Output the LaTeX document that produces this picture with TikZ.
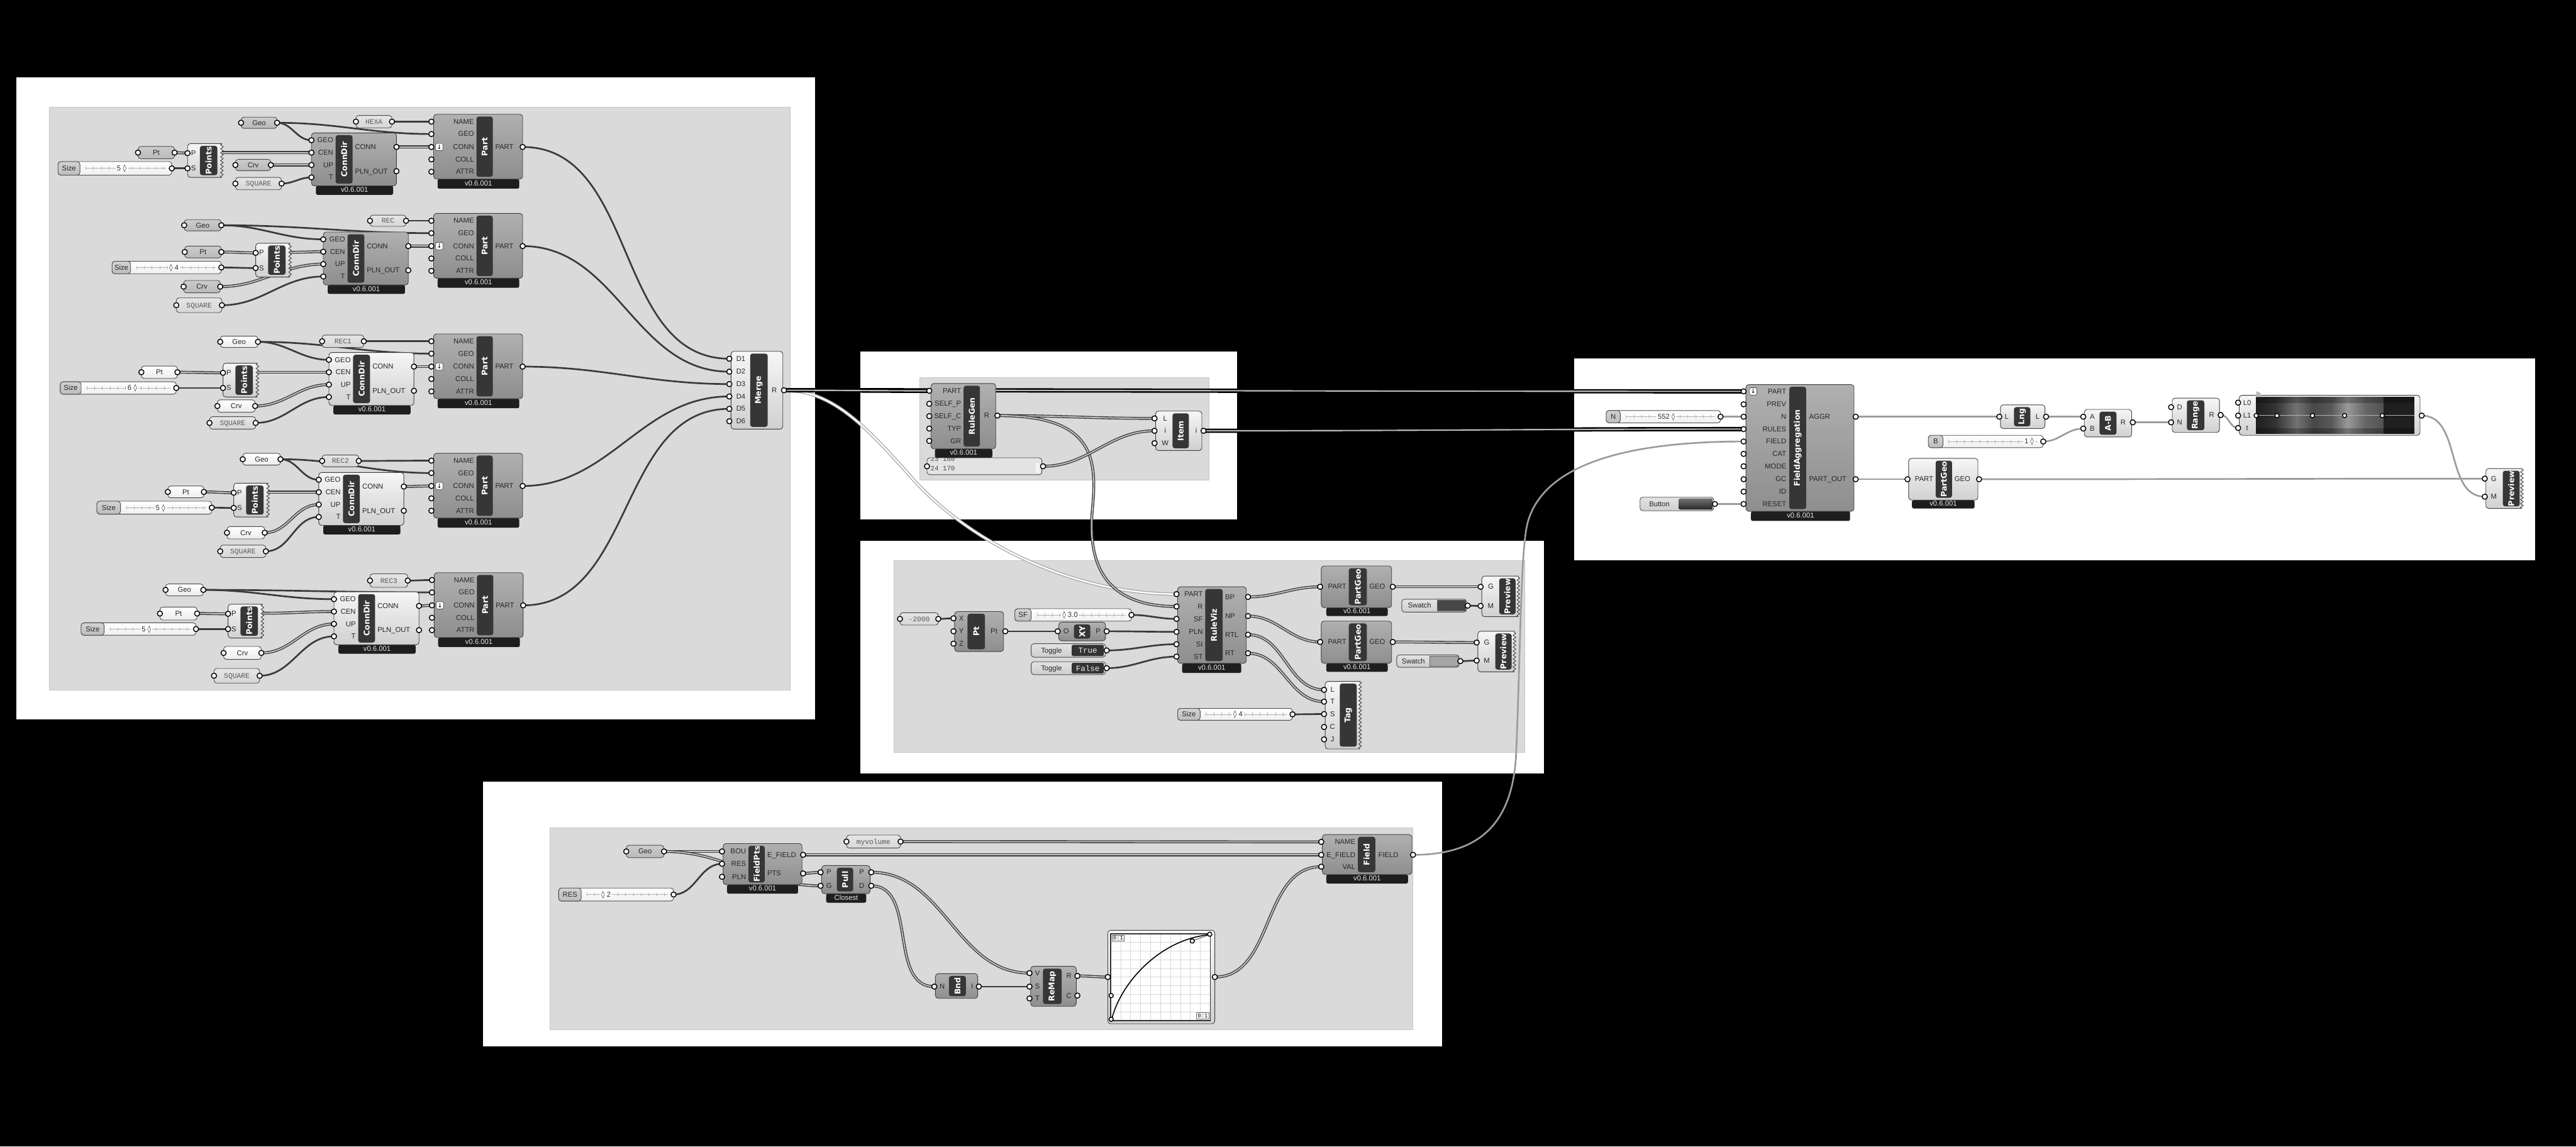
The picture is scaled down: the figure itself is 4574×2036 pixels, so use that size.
\documentclass[tikz,border=0pt]{standalone}
\usepackage{fontspec}
\setmainfont{Liberation Sans}
\newfontfamily\tfont{DejaVu Sans}
\newfontfamily\mfont{Liberation Mono}
\newfontfamily\symf{DejaVu Sans}
\usetikzlibrary{fit,decorations.pathmorphing}
\pgfdeclarelayer{panels}
\pgfdeclarelayer{wires}
\pgfsetlayers{panels,wires,main}

\definecolor{wirec}{HTML}{3A3A3A}
\definecolor{wgray}{HTML}{9C9C9C}
\definecolor{grpc}{HTML}{DADADA}
\definecolor{barc}{HTML}{363636}
\definecolor{vbarc}{HTML}{1E1E1E}
\definecolor{dtop}{HTML}{B0B0B0}
\definecolor{dbot}{HTML}{8E8E8E}
\definecolor{ltop}{HTML}{F6F6F6}
\definecolor{lbot}{HTML}{D0D0D0}

\tikzset{
  x=0.5pt, y=-0.5pt,
  cbody/.style={inner sep=0pt, draw=black!75, line width=0.5pt, rounded corners=2.5pt},
  cdark/.style={top color=dtop, bottom color=dbot},
  clight/.style={top color=ltop, bottom color=lbot},
  cbar/.style={inner sep=0pt, fill=barc, rounded corners=2pt},
  ctitle/.style={font=\tfont\bfseries\fontsize{7}{7}\selectfont, text=white, inner sep=0pt},
  vbox/.style={inner sep=0pt, fill=vbarc, rounded corners=1.5pt},
  vtext/.style={font=\fontsize{6.3}{7}\selectfont, text=gray!20, inner sep=0pt},
  plabel/.style={font=\fontsize{6.3}{7}\selectfont, text=black!85, inner sep=0pt, text height=4.6pt, text depth=0.3pt},
  port/.style={circle, draw=black, fill=white, line width=0.8pt, minimum size=4.6pt, inner sep=0pt},
  pin/.style={inner sep=0pt, minimum size=0pt},
  pbody/.style={inner sep=0pt, draw=black!70, line width=0.5pt, rounded corners=2.5pt},
  pdark/.style={top color=gray!40, bottom color=gray!55},
  plight/.style={top color=white, bottom color=gray!15},
  ppanel/.style={top color=gray!20, bottom color=gray!32},
  mtext/.style={font=\mfont\fontsize{6}{7}\selectfont, text=black!70, inner sep=0pt},
  wsingle/.style={draw=wirec, line width=1.5pt},
  wlist/.style={draw=wirec, line width=0.75pt, double=gray!45, double distance=1pt},
  wthick/.style={draw=black, line width=1.3pt, double=gray!55, double distance=1.2pt},
  wsel/.style={draw=gray!65, line width=0.8pt, double=white, double distance=1.3pt},
  wg/.style={draw=wgray, line width=1.5pt},
}

\newcommand{\dm}{{\symf ◊}}
\newcommand{\Comp}[9]{%
  \node[cbody,#8,fit={(#2,#3)(#4,#5)}] (#1) {};%
  \node[cbar,fit={(#6,#3+4)(#7,#5-4)}] (#1-bar) {};%
  \node[ctitle,rotate=90] (#1-t) at (#1-bar.center) {#9};}
\newcommand{\VB}[6]{%
  \node[vbox,fit={(#2,#3)(#4,#5)}] (#1) {};%
  \node[vtext] (#1-t) at ([yshift=0.6pt]#1.center) {#6};}
\newcommand{\Prt}[6]{%
  \node[port] (#1) at (#2,#3) {};%
  \node[plabel,anchor=#5] (#1-l) at (#4,#3) {#6};}
\newcommand{\GParam}[7]{%
  \node[pbody,#6,fit={(#2,#3)(#4,#5)}] (#1) {};%
  \node[plabel] (#1-t) at (#1.center) {#7};%
  \node[port] (#1-i) at (#2,{(#3+#5)/2}) {};%
  \node[port] (#1-o) at (#4,{(#3+#5)/2}) {};}
\newcommand{\Slider}[9]{%
  \node[pbody,top color=white,bottom color=gray!12,fit={(#2,#3)(#4,#5)}] (#1) {};%
  \node[pbody,top color=gray!35,bottom color=gray!52,fit={(#2,#3)(#2+#6,#5)}] (#1-lb) {};%
  \node[plabel] (#1-l) at (#1-lb.center) {#7};%
  \draw[gray!60,line width=0.4pt] (#2+#6+10,{(#3+#5)/2}) -- (#4-10,{(#3+#5)/2});%
  \draw[gray!60,line width=3pt,dash pattern=on 0.35pt off 6.5pt] (#2+#6+10,{(#3+#5)/2}) -- (#4-10,{(#3+#5)/2});%
  \node[plabel,fill=white,inner xsep=1pt] (#1-v) at (#8,{(#3+#5)/2}) {#9};%
  \node[port] (#1-o) at (#4,{(#3+#5)/2}) {};}
\newcommand{\JagO}[4]{%
  \draw[black!75,line width=0.5pt,rounded corners=2.5pt] (#3,#2) -- (#1,#2) -- (#1,#4) -- (#3,#4);%
  \draw[black!75,line width=0.5pt,decorate,decoration={zigzag,segment length=3.5pt,amplitude=1.2pt}] (#3,#4) -- (#3,#2);}
\newcommand{\Icon}[3]{%
  \node[draw=black!70,fill=white,rounded corners=1pt,minimum size=6.5pt,inner sep=0pt,font=\symf\fontsize{5.5}{5.5}\selectfont] (#1) at (#2,#3) {↓};}
\newcommand{\Toggle}[6]{%
  \node[pbody,top color=gray!22,bottom color=gray!38,fit={(#2,#3)(#4,#5)}] (#1) {};%
  \node[plabel] (#1-l) at ({(#2+#4-60)/2},{(#3+#5)/2}) {Toggle};%
  \node[inner sep=0pt,fill=black!80,rounded corners=1pt,fit={(#4-60,#3+2)(#4-3,#5-2)}] (#1-b) {};%
  \node[mtext,text=gray!15,font=\mfont\fontsize{7}{7}\selectfont] (#1-v) at (#1-b.center) {#6};%
  \node[port] (#1-o) at (#4+2,{(#3+#5)/2}) {};}
\newcommand{\Swatch}[6]{%
  \node[pbody,top color=gray!22,bottom color=gray!38,fit={(#2,#3)(#4,#5)}] (#1) {};%
  \node[plabel] (#1-l) at ({(#2+#4-52)/2},{(#3+#5)/2}) {Swatch};%
  \node[inner sep=0pt,fill=#6,draw=black!60,line width=0.3pt,fit={(#4-52,#3+2)(#4-2,#5-2)}] (#1-b) {};%
  \node[port] (#1-o) at (#4+2,{(#3+#5)/2}) {};}
\newcommand{\Button}[5]{%
  \node[pbody,top color=gray!22,bottom color=gray!38,fit={(#2,#3)(#4,#5)}] (#1) {};%
  \node[plabel] (#1-l) at ({(#2+#4-62)/2},{(#3+#5)/2}) {Button};%
  \node[inner sep=0pt,top color=black!55,bottom color=black!85,rounded corners=1pt,fit={(#4-62,#3+2)(#4-2,#5-2)}] (#1-b) {};%
  \node[port] (#1-o) at (#4+2,{(#3+#5)/2}) {};}
\newcommand{\PartC}[4]{%
  \VB{#1v}{#2+7}{#3+115}{#2+152}{#3+132}{v0.6.001}%
  \Comp{#1}{#2}{#3}{#2+158}{#3+115}{#2+76}{#2+105}{#4}{Part}%
  \Prt{#1-NAME}{#2-4}{#3+13}{#2+72}{east}{NAME}%
  \Prt{#1-GEO}{#2-4}{#3+35}{#2+72}{east}{GEO}%
  \Prt{#1-CONN}{#2-4}{#3+58}{#2+72}{east}{CONN}%
  \Prt{#1-COLL}{#2-4}{#3+80}{#2+72}{east}{COLL}%
  \Prt{#1-ATTR}{#2-4}{#3+102}{#2+72}{east}{ATTR}%
  \Prt{#1-PART}{#2+158}{#3+58}{#2+109}{west}{PART}%
  \Icon{#1-ic}{#2+10}{#3+58}}
\newcommand{\CDC}[4]{%
  \VB{#1v}{#2+8}{#3+94}{#2+145}{#3+110}{v0.6.001}%
  \Comp{#1}{#2}{#3}{#2+151}{#3+94}{#2+43}{#2+73}{#4}{ConnDir}%
  \Prt{#1-GEO}{#2}{#3+13}{#2+39}{east}{GEO}%
  \Prt{#1-CEN}{#2}{#3+35}{#2+39}{east}{CEN}%
  \Prt{#1-UP}{#2}{#3+57}{#2+39}{east}{UP}%
  \Prt{#1-T}{#2}{#3+79}{#2+39}{east}{T}%
  \Prt{#1-CONN}{#2+151}{#3+25}{#2+77}{west}{CONN}%
  \Prt{#1-PLN}{#2+151}{#3+68}{#2+77}{west}{PLN\_OUT}}
\newcommand{\PtsC}[3]{%
  \Comp{#1}{#2}{#3}{#2+61}{#3+60}{#2+22}{#2+53}{clight,draw=none}{Points}%
  \JagO{#2}{#3}{#2+61}{#3+60}%
  \Prt{#1-P}{#2}{#3+17}{#2+15}{east}{P}%
  \Prt{#1-S}{#2}{#3+44}{#2+15}{east}{S}%
  \node[pin] (#1-o) at (#2+61,#3+16) {};}
\newcommand{\CW}[1]{%
  \draw[wsingle] (c#1geo-o.center) to[out=0,in=180] (c#1cd-GEO.center);%
  \draw[wsingle] (c#1geo-o.center) to[out=0,in=180] (c#1p-GEO.center);%
  \draw[wsingle] (c#1nm-o.center) to[out=0,in=180] (c#1p-NAME.center);%
  \draw[wlist] (c#1pt-o.center) to[out=0,in=180] (c#1pts-P.center);%
  \draw[wsingle] (c#1sz-o.center) to[out=0,in=180] (c#1pts-S.center);%
  \draw[wlist] (c#1pts-o.center) to[out=0,in=180] (c#1cd-CEN.center);%
  \draw[wlist] (c#1crv-o.center) to[out=0,in=180] (c#1cd-UP.center);%
  \draw[wsingle] (c#1sq-o.center) to[out=0,in=180] (c#1cd-T.center);%
  \draw[wlist] (c#1cd-CONN.center) to[out=0,in=180] (c#1p-CONN.center);}

\begin{document}
\begin{tikzpicture}
\useasboundingbox (0,0) rectangle (4574,2036);
\begin{pgfonlayer}{panels}
\node[fill=black,inner sep=0,fit={(0,0)(4574,2036)}] (bg) {};
\node[fill=white,inner sep=0,fit={(29,137)(1447,1278)}] (pA) {};
\node[fill=grpc,draw=gray!45,line width=0.5pt,inner sep=0,fit={(88,190)(1403,1225)}] (gA) {};
\node[fill=white,inner sep=0,fit={(1528,624)(2197,922)}] (pB) {};
\node[fill=grpc,draw=gray!45,line width=0.5pt,inner sep=0,fit={(1633,670)(2147,853)}] (gB) {};
\node[fill=white,inner sep=0,fit={(1528,960)(2742,1374)}] (pC) {};
\node[fill=grpc,draw=gray!45,line width=0.5pt,inner sep=0,fit={(1587,995)(2707,1336)}] (gC) {};
\node[fill=white,inner sep=0,fit={(2795,636)(4501,995)}] (pD) {};
\node[fill=white,inner sep=0,fit={(858,1388)(2561,1858)}] (pE) {};
\node[fill=grpc,draw=gray!45,line width=0.5pt,inner sep=0,fit={(977,1470)(2509,1829)}] (gE) {};
\end{pgfonlayer}

% ---------- cluster 1
\PartC{c1p}{770}{203}{cdark}
\CDC{c1cd}{553}{236}{cdark}
\PtsC{c1pts}{333}{255}
\GParam{c1geo}{428}{208}{492}{228}{pdark}{Geo}
\GParam{c1nm}{632}{205}{696}{227}{ppanel}{\mfont\color{black!65}HEXA}
\GParam{c1pt}{245}{260}{310}{282}{pdark}{Pt}
\Slider{c1sz}{103}{287}{305}{311}{39}{Size}{216}{5 \dm}
\GParam{c1crv}{418}{283}{481}{303}{pdark}{Crv}
\GParam{c1sq}{418}{315}{500}{337}{ppanel}{\mfont\color{black!65}SQUARE}
% ---------- cluster 2
\PartC{c2p}{770}{379}{cdark}
\CDC{c2cd}{574}{412}{cdark}
\PtsC{c2pts}{454}{432}
\GParam{c2geo}{327}{390}{393}{410}{pdark}{Geo}
\GParam{c2nm}{657}{382}{721}{402}{ppanel}{\mfont\color{black!65}REC}
\GParam{c2pt}{328}{437}{393}{458}{pdark}{Pt}
\Slider{c2sz}{199}{464}{393}{486}{33}{Size}{309}{\dm\ 4}
\GParam{c2crv}{326}{498}{391}{520}{pdark}{Crv}
\GParam{c2sq}{313}{529}{394}{555}{ppanel}{\mfont\color{black!65}SQUARE}
% ---------- cluster 3
\PartC{c3p}{770}{593}{cdark}
\CDC{c3cd}{584}{626}{clight}
\PtsC{c3pts}{396}{645}
\GParam{c3geo}{391}{597}{458}{617}{plight}{Geo}
\GParam{c3nm}{572}{595}{646}{617}{ppanel}{\mfont\color{black!65}REC1}
\GParam{c3pt}{251}{650}{315}{672}{plight}{Pt}
\Slider{c3sz}{107}{678}{313}{700}{37}{Size}{235}{6 \dm}
\GParam{c3crv}{386}{710}{453}{732}{plight}{Crv}
\GParam{c3sq}{372}{740}{454}{762}{ppanel}{\mfont\color{black!65}SQUARE}
% ---------- cluster 4
\PartC{c4p}{770}{805}{cdark}
\CDC{c4cd}{566}{839}{clight}
\PtsC{c4pts}{415}{858}
\GParam{c4geo}{431}{805}{498}{826}{plight}{Geo}
\GParam{c4nm}{572}{808}{637}{829}{ppanel}{\mfont\color{black!65}REC2}
\GParam{c4pt}{298}{863}{362}{884}{plight}{Pt}
\Slider{c4sz}{172}{890}{376}{913}{42}{Size}{285}{5 \dm}
\GParam{c4crv}{403}{935}{470}{957}{plight}{Crv}
\GParam{c4sq}{391}{968}{472}{990}{ppanel}{\mfont\color{black!65}SQUARE}
% ---------- cluster 5
\PartC{c5p}{771}{1017}{cdark}
\CDC{c5cd}{593}{1051}{clight}
\PtsC{c5pts}{405}{1073}
\GParam{c5geo}{294}{1037}{361}{1058}{plight}{Geo}
\GParam{c5nm}{657}{1019}{724}{1043}{ppanel}{\mfont\color{black!65}REC3}
\GParam{c5pt}{284}{1078}{350}{1101}{plight}{Pt}
\Slider{c5sz}{144}{1106}{348}{1128}{41}{Size}{260}{5 \dm}
\GParam{c5crv}{397}{1148}{464}{1171}{plight}{Crv}
\GParam{c5sq}{380}{1187}{461}{1213}{ppanel}{\mfont\color{black!65}SQUARE}

% ---------- Merge
\Comp{mg}{1298}{624}{1390}{762}{1332}{1363}{clight}{Merge}
\Prt{mg-D1}{1295}{637}{1307}{west}{D1}
\Prt{mg-D2}{1295}{660}{1307}{west}{D2}
\Prt{mg-D3}{1295}{682}{1307}{west}{D3}
\Prt{mg-D4}{1295}{704}{1307}{west}{D4}
\Prt{mg-D5}{1295}{726}{1307}{west}{D5}
\Prt{mg-D6}{1295}{748}{1307}{west}{D6}
\Prt{mg-R}{1392}{693}{1375}{center}{R}

% ---------- RuleGen panel
\VB{rgv}{1660}{797}{1762}{813}{v0.6.001}
\Comp{rg}{1653}{681}{1768}{797}{1711}{1740}{cdark}{RuleGen}
\Prt{rg-PART}{1650}{694}{1707}{east}{PART}
\Prt{rg-SP}{1650}{717}{1707}{east}{SELF\_P}
\Prt{rg-SC}{1650}{739}{1707}{east}{SELF\_C}
\Prt{rg-TYP}{1650}{761}{1707}{east}{TYP}
\Prt{rg-GR}{1650}{783}{1707}{east}{GR}
\Prt{rg-R}{1771}{738}{1752}{center}{R}
\node[pbody,fill=gray!22,fit={(1646,813)(1850,843)}] (rgl) {};
\begin{scope}
\clip (1646,814) rectangle (1850,843);
\node[mtext,anchor=west] (rgl-a) at (1652,815) {23 160};
\end{scope}
\node[mtext,anchor=west] (rgl-b) at (1652,832) {24 170};
\node[fill=gray!8,inner sep=0,rounded corners=1pt,fit={(1839,822)(1846,840)}] (rgl-s) {};
\node[port] (rgl-i) at (1646,828) {};
\node[port] (rgl-o) at (1852,828) {};
\Comp{it}{2052}{730}{2134}{800}{2082}{2111}{clight}{Item}
\Prt{it-L}{2050}{743}{2069}{center}{L}
\Prt{it-i}{2050}{765}{2069}{center}{i}
\Prt{it-W}{2050}{787}{2069}{center}{W}
\Prt{it-o}{2137}{765}{2124}{center}{i}

% ---------- RuleViz panel
\VB{rvv}{2099}{1178}{2204}{1195}{v0.6.001}
\Comp{rv}{2091}{1042}{2213}{1178}{2140}{2171}{cdark}{RuleViz}
\Prt{rv-PART}{2089}{1055}{2136}{east}{PART}
\Prt{rv-R}{2089}{1077}{2136}{east}{R}
\Prt{rv-SF}{2089}{1099}{2136}{east}{SF}
\Prt{rv-PLN}{2089}{1122}{2136}{east}{PLN}
\Prt{rv-SI}{2089}{1144}{2136}{east}{SI}
\Prt{rv-ST}{2089}{1166}{2136}{east}{ST}
\Prt{rv-BP}{2216}{1060}{2175}{west}{BP}
\Prt{rv-NP}{2216}{1094}{2175}{west}{NP}
\Prt{rv-RTL}{2216}{1127}{2175}{west}{RTL}
\Prt{rv-RT}{2216}{1160}{2175}{west}{RT}
\GParam{m2k}{1598}{1088}{1666}{1110}{ppanel}{\mfont\color{black!65}-2000}
\Comp{ptc}{1695}{1086}{1782}{1157}{1718}{1749}{cdark}{Pt}
\Prt{ptc-X}{1693}{1098}{1707}{center}{X}
\Prt{ptc-Y}{1693}{1121}{1707}{center}{Y}
\Prt{ptc-Z}{1693}{1143}{1707}{center}{Z}
\Prt{ptc-o}{1785}{1121}{1765}{center}{Pt}
\Slider{sf}{1802}{1081}{2009}{1103}{29}{SF}{1900}{\dm\ 3.0}
\Comp{xy}{1880}{1105}{1963}{1138}{1907}{1936}{cdark}{XY}
\Prt{xy-O}{1878}{1121}{1893}{center}{O}
\Prt{xy-P}{1965}{1121}{1950}{center}{P}
\Toggle{tg1}{1831}{1143}{1963}{1167}{True}
\Toggle{tg2}{1831}{1175}{1963}{1198}{False}
\VB{pg1v}{2355}{1079}{2464}{1094}{v0.6.001}
\Comp{pg1}{2346}{1005}{2471}{1079}{2395}{2427}{cdark}{PartGeo}
\Prt{pg1-i}{2344}{1042}{2391}{east}{PART}
\Prt{pg1-o}{2473}{1042}{2431}{west}{GEO}
\Swatch{sw1}{2489}{1064}{2604}{1087}{black!72}
\Comp{pv1}{2631}{1023}{2696}{1095}{2662}{2691}{clight,draw=none}{Preview}
\JagO{2631}{1023}{2696}{1095}
\Prt{pv1-G}{2629}{1042}{2647}{center}{G}
\Prt{pv1-M}{2629}{1076}{2647}{center}{M}
\VB{pg2v}{2355}{1178}{2464}{1193}{v0.6.001}
\Comp{pg2}{2346}{1103}{2471}{1178}{2395}{2427}{cdark}{PartGeo}
\Prt{pg2-i}{2344}{1140}{2391}{east}{PART}
\Prt{pg2-o}{2473}{1140}{2431}{west}{GEO}
\Swatch{sw2}{2480}{1163}{2591}{1185}{gray!70}
\Comp{pv2}{2624}{1121}{2689}{1193}{2655}{2684}{clight,draw=none}{Preview}
\JagO{2624}{1121}{2689}{1193}
\Prt{pv2-G}{2622}{1141}{2640}{center}{G}
\Prt{pv2-M}{2622}{1173}{2640}{center}{M}
\Comp{tag}{2353}{1210}{2415}{1330}{2379}{2409}{clight,draw=none}{Tag}
\JagO{2353}{1210}{2415}{1330}
\Prt{tag-L}{2351}{1225}{2366}{center}{L}
\Prt{tag-T}{2351}{1246}{2366}{center}{T}
\Prt{tag-S}{2351}{1268}{2366}{center}{S}
\Prt{tag-C}{2351}{1291}{2366}{center}{C}
\Prt{tag-J}{2351}{1313}{2366}{center}{J}
\Slider{tsz}{2091}{1258}{2295}{1279}{40}{Size}{2198}{\dm\ 4}

% ---------- FieldAggregation panel
\VB{fav}{3109}{908}{3285}{925}{v0.6.001}
\Comp{fa}{3100}{683}{3292}{908}{3177}{3207}{cdark}{FieldAggregation}
\Prt{fa-PART}{3096}{695}{3172}{east}{PART}
\Prt{fa-PREV}{3096}{718}{3172}{east}{PREV}
\Prt{fa-N}{3096}{740}{3172}{east}{N}
\Prt{fa-RULES}{3096}{762}{3172}{east}{RULES}
\Prt{fa-FIELD}{3096}{784}{3172}{east}{FIELD}
\Prt{fa-CAT}{3096}{806}{3172}{east}{CAT}
\Prt{fa-MODE}{3096}{828}{3172}{east}{MODE}
\Prt{fa-GC}{3096}{851}{3172}{east}{GC}
\Prt{fa-ID}{3096}{873}{3172}{east}{ID}
\Prt{fa-RESET}{3096}{895}{3172}{east}{RESET}
\Prt{fa-AGGR}{3295}{740}{3212}{west}{AGGR}
\Prt{fa-PO}{3295}{851}{3212}{west}{PART\_OUT}
\Icon{fa-ic}{3113}{695}
\Slider{nsl}{2852}{729}{3055}{751}{25}{N}{2959}{552 \dm}
\Button{btn}{2912}{883}{3043}{907}
\Comp{lng}{3552}{719}{3631}{761}{3576}{3605}{clight}{Lng}
\Prt{lng-i}{3550}{740}{3563}{center}{L}
\Prt{lng-o}{3633}{740}{3618}{center}{L}
\Slider{bsl}{3424}{773}{3628}{795}{26}{B}{3603}{1 \dm}
\Comp{ab}{3701}{727}{3785}{776}{3728}{3758}{clight}{A-B}
\Prt{ab-A}{3699}{740}{3715}{center}{A}
\Prt{ab-B}{3699}{761}{3715}{center}{B}
\Prt{ab-R}{3787}{750}{3770}{center}{R}
\Comp{rng}{3857}{707}{3941}{768}{3883}{3914}{clight}{Range}
\Prt{rng-D}{3855}{723}{3870}{center}{D}
\Prt{rng-N}{3855}{750}{3870}{center}{N}
\Prt{rng-R}{3943}{737}{3927}{center}{R}
\node[cbody,clight,fit={(3976,702)(4297,773)}] (grd) {};
\shade[left color=black!88,right color=black!80] (4006,705) rectangle (4040,770);
\shade[left color=black!80,right color=black!55] (4040,705) rectangle (4078,770);
\shade[left color=black!55,right color=black!72] (4078,705) rectangle (4108,770);
\shade[left color=black!72,right color=black!65] (4108,705) rectangle (4140,770);
\shade[left color=black!65,right color=black!40] (4140,705) rectangle (4168,770);
\shade[left color=black!40,right color=black!60] (4168,705) rectangle (4200,770);
\shade[left color=black!60,right color=black!68] (4200,705) rectangle (4232,770);
\fill[black!88] (4232,705) rectangle (4287,770);
\fill[black,opacity=0.25] (4006,705) rectangle (4287,716);
\fill[black,opacity=0.25] (4006,760) rectangle (4287,770);
\fill[gray!55] (4006,705) -- (4016,705) arc[start angle=0,end angle=-90,radius=10] -- cycle;
\draw[gray!60,line width=0.6pt] (4006,738) -- (4287,738);
\node[port,minimum size=3.8pt] (gh1) at (4006,738) {};
\node[port,minimum size=3.8pt] (gh2) at (4043,738) {};
\node[port,minimum size=3.8pt] (gh3) at (4106,738) {};
\node[port,minimum size=3.8pt] (gh4) at (4163,738) {};
\node[port,minimum size=3.8pt] (gh5) at (4230,738) {};
\Prt{grd-L0}{3974}{715}{3990}{center}{L0}
\Prt{grd-L1}{3974}{738}{3990}{center}{L1}
\Prt{grd-t}{3974}{760}{3990}{center}{t}
\node[port] (grd-o) at (4300,738) {};
\VB{pg3v}{3395}{888}{3506}{903}{v0.6.001}
\Comp{pg3}{3389}{814}{3512}{888}{3437}{3466}{clight}{PartGeo}
\Prt{pg3-i}{3387}{851}{3433}{east}{PART}
\Prt{pg3-o}{3514}{851}{3470}{west}{GEO}
\Comp{pv3}{4414}{832}{4478}{903}{4444}{4474}{clight,draw=none}{Preview}
\JagO{4414}{832}{4478}{903}
\Prt{pv3-G}{4412}{850}{4428}{center}{G}
\Prt{pv3-M}{4412}{882}{4428}{center}{M}

% ---------- Field panel
\GParam{fgeo}{1112}{1501}{1179}{1523}{pdark}{Geo}
\Slider{res}{992}{1577}{1196}{1600}{40}{RES}{1076}{\dm\ 2}
\VB{fpv}{1291}{1571}{1417}{1587}{v0.6.001}
\Comp{fp}{1284}{1498}{1424}{1571}{1329}{1358}{cdark}{FieldPts}
\Prt{fp-BOU}{1282}{1512}{1325}{east}{BOU}
\Prt{fp-RES}{1282}{1534}{1325}{east}{RES}
\Prt{fp-PLN}{1282}{1557}{1325}{east}{PLN}
\Prt{fp-EF}{1426}{1518}{1362}{west}{E\_FIELD}
\Prt{fp-PTS}{1426}{1551}{1362}{west}{PTS}
\VB{plv}{1467}{1587}{1538}{1603}{Closest}
\Comp{pl}{1459}{1537}{1545}{1587}{1486}{1515}{cdark}{Pull}
\Prt{pl-P}{1457}{1549}{1472}{center}{P}
\Prt{pl-G}{1457}{1573}{1472}{center}{G}
\Prt{pl-Po}{1547}{1549}{1530}{center}{P}
\Prt{pl-D}{1547}{1573}{1530}{center}{D}
\GParam{mv}{1503}{1483}{1599}{1506}{ppanel}{\mfont\color{black!65}myvolume}
\VB{fldv}{2355}{1553}{2500}{1569}{v0.6.001}
\Comp{fld}{2348}{1482}{2507}{1553}{2411}{2442}{cdark}{Field}
\Prt{fld-NAME}{2346}{1495}{2407}{east}{NAME}
\Prt{fld-EF}{2346}{1518}{2407}{east}{E\_FIELD}
\Prt{fld-VAL}{2346}{1539}{2407}{east}{VAL}
\Prt{fld-o}{2509}{1518}{2447}{west}{FIELD}
\Comp{bnd}{1661}{1729}{1736}{1773}{1685}{1715}{cdark}{Bnd}
\Prt{bnd-N}{1659}{1752}{1673}{center}{N}
\Prt{bnd-I}{1738}{1752}{1726}{center}{I}
\Comp{rm}{1830}{1716}{1911}{1787}{1852}{1885}{cdark}{ReMap}
\Prt{rm-V}{1828}{1728}{1842}{center}{V}
\Prt{rm-S}{1828}{1752}{1842}{center}{S}
\Prt{rm-T}{1828}{1773}{1842}{center}{T}
\Prt{rm-R}{1913}{1733}{1898}{center}{R}
\Prt{rm-C}{1913}{1768}{1898}{center}{C}
\node[cbody,clight,fit={(1967,1652)(2157,1818)}] (gm) {};
\node[fill=white,inner sep=0,fit={(1972,1658)(2149,1812)}] (gm-a) {};
\foreach \k in {1,...,9} {
  \draw[gray!30,line width=0.3pt] ({1972+\k*17.7},1658) -- ({1972+\k*17.7},1812);
  \draw[gray!30,line width=0.3pt] (1972,{1658+\k*15.4}) -- (2149,{1658+\k*15.4});
}
\draw[black!80,line width=1pt] (1972,1658) rectangle (2149,1812);
\draw[black,line width=0.9pt] (1974,1810) .. controls (1990,1745) and (2060,1668) .. (2147,1660);
\draw[black!70,line width=0.5pt] (2147,1660) -- (2117,1671);
\node[draw=black!60,fill=white,inner sep=1pt,font=\mfont\fontsize{5}{5}\selectfont,anchor=north west] (gm-l1) at (1974,1660) {0:1};
\node[draw=black!60,fill=white,inner sep=1pt,font=\mfont\fontsize{5}{5}\selectfont,anchor=south east] (gm-l2) at (2147,1810) {0:1};
\node[port,minimum size=3.8pt] (gm-h1) at (2117,1671) {};
\node[port,minimum size=3.8pt] (gm-h2) at (1973,1768) {};
\node[port,minimum size=3.8pt] (gm-h3) at (1973,1810) {};
\node[port,minimum size=3.8pt] (gm-h4) at (2148,1659) {};
\node[port] (gm-i) at (1967,1735) {};
\node[port] (gm-o) at (2157,1735) {};

% ---------- wires
\begin{pgfonlayer}{wires}
\CW{1}\CW{2}\CW{3}\CW{4}\CW{5}
\draw[wsingle] (c1p-PART.center) to[out=0,in=180] (mg-D1.center);
\draw[wsingle] (c2p-PART.center) to[out=0,in=180] (mg-D2.center);
\draw[wsingle] (c3p-PART.center) to[out=0,in=180] (mg-D3.center);
\draw[wsingle] (c4p-PART.center) to[out=0,in=180] (mg-D4.center);
\draw[wsingle] (c5p-PART.center) to[out=0,in=180] (mg-D5.center);
\draw[wsel] (mg-R.center) .. controls (1480,693) and (1540,760) .. (1623,853) .. controls (1720,960) and (1900,1055) .. (rv-PART.center);
\draw[wthick] (mg-R.center) to[out=0,in=180] (fa-PART.center);
\draw[wthick] (mg-R.center) to[out=0,in=180] (rg-PART.center);
\draw[wlist] (rg-R.center) to[out=0,in=180] (it-L.center);
\draw[wlist] (rg-R.center) .. controls (1930,738) and (1950,800) .. (1940,900) .. controls (1930,1000) and (1960,1077) .. (rv-R.center);
\draw[wlist] (rgl-o.center) to[out=0,in=180] (it-i.center);
\draw[wthick] (it-o.center) to[out=0,in=180] (fa-RULES.center);
\draw[wsingle] (m2k-o.center) to[out=0,in=180] (ptc-X.center);
\draw[wsingle] (ptc-o.center) to[out=0,in=180] (xy-O.center);
\draw[wsingle] (xy-P.center) to[out=0,in=180] (rv-PLN.center);
\draw[wsingle] (sf-o.center) to[out=0,in=180] (rv-SF.center);
\draw[wsingle] (tg1-o.center) to[out=0,in=180] (rv-SI.center);
\draw[wsingle] (tg2-o.center) to[out=0,in=180] (rv-ST.center);
\draw[wlist] (rv-BP.center) to[out=0,in=180] (pg1-i.center);
\draw[wlist] (rv-NP.center) to[out=0,in=180] (pg2-i.center);
\draw[wlist] (rv-RTL.center) to[out=0,in=180] (tag-L.center);
\draw[wlist] (rv-RT.center) to[out=0,in=180] (tag-T.center);
\draw[wlist] (pg1-o.center) to[out=0,in=180] (pv1-G.center);
\draw[wsingle] (sw1-o.center) to[out=0,in=180] (pv1-M.center);
\draw[wlist] (pg2-o.center) to[out=0,in=180] (pv2-G.center);
\draw[wsingle] (sw2-o.center) to[out=0,in=180] (pv2-M.center);
\draw[wsingle] (tsz-o.center) to[out=0,in=180] (tag-S.center);
\draw[wg] (nsl-o.center) to[out=0,in=180] (fa-N.center);
\draw[wg] (btn-o.center) to[out=0,in=180] (fa-RESET.center);
\draw[wg] (fa-AGGR.center) to[out=0,in=180] (lng-i.center);
\draw[wg] (lng-o.center) to[out=0,in=180] (ab-A.center);
\draw[wg] (bsl-o.center) to[out=0,in=180] (ab-B.center);
\draw[wg] (ab-R.center) to[out=0,in=180] (rng-N.center);
\draw[wg] (rng-R.center) to[out=0,in=180] (grd-t.center);
\draw[wg] (grd-o.center) to[out=0,in=180] (pv3-M.center);
\draw[wg] (fa-PO.center) to[out=0,in=180] (pg3-i.center);
\draw[wg] (pg3-o.center) to[out=0,in=180] (pv3-G.center);
\draw[wlist] (fgeo-o.center) to[out=0,in=180] (fp-BOU.center);
\draw[wlist] (fgeo-o.center) to[out=0,in=180] (pl-G.center);
\draw[wsingle] (res-o.center) to[out=0,in=180] (fp-RES.center);
\draw[wlist] (fp-EF.center) to[out=0,in=180] (fld-EF.center);
\draw[wlist] (fp-PTS.center) to[out=0,in=180] (pl-P.center);
\draw[wlist] (mv-o.center) to[out=0,in=180] (fld-NAME.center);
\draw[wlist] (pl-Po.center) to[out=0,in=180] (rm-V.center);
\draw[wlist] (pl-D.center) to[out=0,in=180] (bnd-N.center);
\draw[wsingle] (bnd-I.center) to[out=0,in=180] (rm-S.center);
\draw[wlist] (rm-R.center) to[out=0,in=180] (gm-i.center);
\draw[wlist] (gm-o.center) to[out=0,in=180] (fld-VAL.center);
\draw[wg] (fld-o.center) .. controls (2620,1518) and (2685,1470) .. (2692,1340) .. controls (2700,1150) and (2700,980) .. (2712,930) .. controls (2740,820) and (2900,784) .. (fa-FIELD.center);
\end{pgfonlayer}
\end{tikzpicture}
\end{document}
